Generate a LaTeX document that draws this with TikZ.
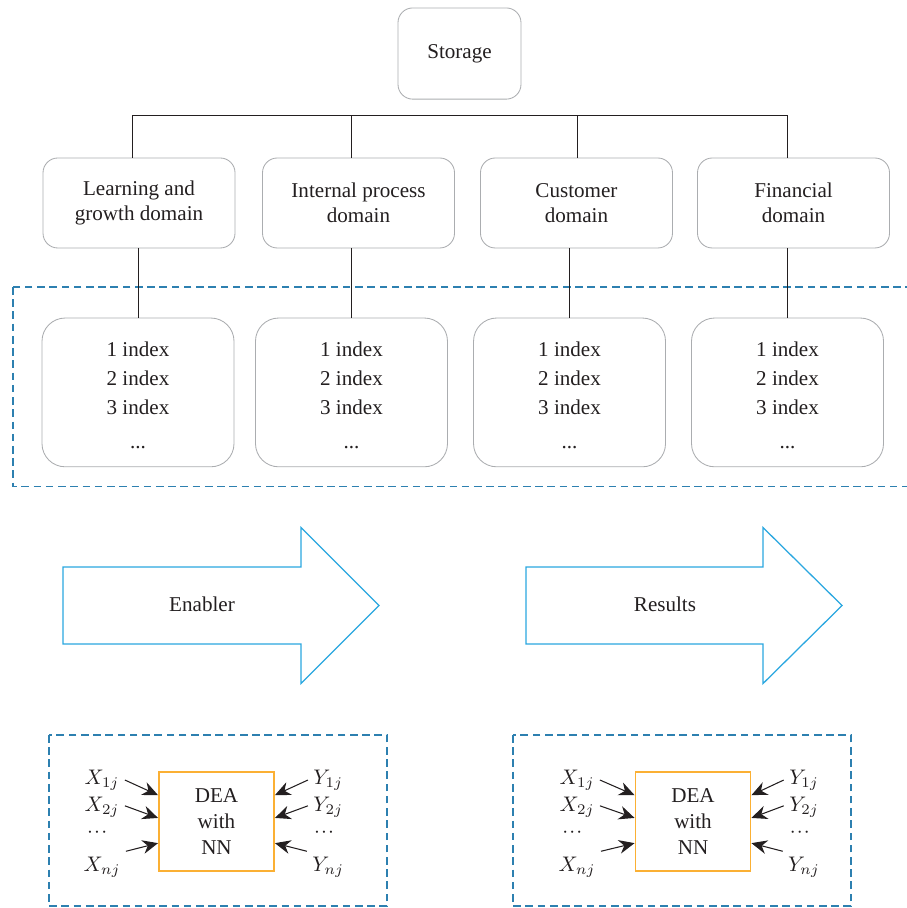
\documentclass[tikz,border=0pt]{standalone}
\usepackage{fontspec}
\setmainfont{Liberation Serif}
\usetikzlibrary{arrows.meta, positioning, calc}
\definecolor{boxgrey}{HTML}{ABADB0}
\definecolor{dashblue}{HTML}{2D80B0}
\definecolor{skyblue}{HTML}{2AA7E0}
\definecolor{deaorange}{HTML}{FBB034}
\definecolor{ink}{HTML}{231F20}
\tikzset{
  roundbox/.style={rectangle, rounded corners=7pt, draw=boxgrey, fill=white, text=ink,
    minimum width=3.2cm, minimum height=1.5cm, align=center, font=\normalsize},
  indexbox/.style={roundbox, rounded corners=11pt, minimum height=2.48cm,
    font=\fontsize{10}{13.7}\selectfont},
  deabox/.style={rectangle, draw=deaorange, thick, text=ink, minimum width=1.92cm,
    minimum height=1.65cm, align=center, font=\fontsize{10}{12.4}\selectfont},
  groupbox/.style={draw=dashblue, thick, dash pattern=on 3.6pt off 2.2pt},
  fatarrow/.style={draw=skyblue, line width=0.6pt, fill=white, line join=miter},
  varlabel/.style={text=ink, inner sep=1pt},
  link/.style={draw=ink, line width=0.45pt},
  inarrow/.style={-{Stealth[length=2.6mm, width=2.3mm]}, draw=ink, line width=0.5pt},
}
\newcommand{\vdotsrow}{$\cdot\!\cdot\!\cdot$}
\begin{document}
\begin{tikzpicture}
\useasboundingbox (0,0) rectangle (15.1,-15.133);
\node[roundbox, minimum width=2.05cm, minimum height=1.52cm] (storage) at (7.658,-0.892) {Storage};
\node[roundbox] (learn) at (2.317,-3.383) {Learning and\\growth domain};
\node[roundbox] (internal) at (5.975,-3.383) {Internal process\\domain};
\node[roundbox] (customer) at (9.608,-3.383) {Customer\\domain};
\node[roundbox] (financial) at (13.225,-3.383) {Financial\\domain};
\coordinate (bus) at (0,-1.917);
\draw[link] (learn.north -| 2.2,0) -- (bus -| 2.2,0) -- (bus -| 13.12,0) -- (financial.north -| 13.12,0);
\draw[link] (bus -| 5.85,0) -- (internal.north -| 5.85,0);
\draw[link] (bus -| 9.63,0) -- (customer.north -| 9.63,0);

\draw[groupbox] (0.217,-4.783) rectangle (15.4,-8.108);
\foreach \n/\x in {1/2.3, 2/5.858, 3/9.492, 4/13.125}
  \node[indexbox] (idx\n) at (\x,-6.54) {\\[-4pt]1 index\\2 index\\3 index\\[2.2pt]...};
\draw[link] (learn.south -| idx1) -- (idx1.north);
\draw[link] (internal.south -| idx2) -- (idx2.north);
\draw[link] (customer.south -| idx3) -- (idx3.north);
\draw[link] (financial.south -| idx4) -- (idx4.north);

\draw[fatarrow] (1.05,-9.45) -- ++(3.967,0) -- ++(0,0.658) -- ++(1.3,-1.3)
  -- ++(-1.3,-1.3) -- ++(0,0.658) -- ++(-3.967,0) -- cycle;
\node[text=ink] (enabler) at (3.367,-10.067) {Enabler};
\draw[fatarrow] (8.767,-9.45) -- ++(3.95,0) -- ++(0,0.658) -- ++(1.317,-1.3)
  -- ++(-1.317,-1.3) -- ++(0,0.658) -- ++(-3.95,0) -- cycle;
\node[text=ink] (results) at (11.083,-10.067) {Results};

\draw[groupbox] (0.817,-12.25) rectangle (6.45,-15.1);
\node[deabox] (dea1) at (3.608,-13.692) {DEA\\with\\NN};
\node[varlabel] (xa1) at (1.7,-13.0) {$X_{1j}$};
\node[varlabel] (xb1) at (1.7,-13.45) {$X_{2j}$};
\node[varlabel] (xc1) at (1.62,-13.88) {\vdotsrow};
\node[varlabel] (xd1) at (1.7,-14.45) {$X_{nj}$};
\node[varlabel] (ya1) at (5.47,-13.0) {$Y_{1j}$};
\node[varlabel] (yb1) at (5.47,-13.45) {$Y_{2j}$};
\node[varlabel] (yc1) at (5.4,-13.88) {\vdotsrow};
\node[varlabel] (yd1) at (5.47,-14.45) {$Y_{nj}$};
\draw[inarrow] ($(xa1.east)+(0.05,0)$) -- ($(dea1.west)+(0,0.44)$);
\draw[inarrow] ($(xb1.east)+(0.05,0.02)$) -- ($(dea1.west)+(0,0.06)$);
\draw[inarrow] ($(xd1.north east)+(0.05,0.05)$) -- ($(dea1.west)+(0,-0.36)$);
\draw[inarrow] ($(ya1.west)+(-0.05,0)$) -- ($(dea1.east)+(0,0.44)$);
\draw[inarrow] ($(yb1.west)+(-0.05,0.02)$) -- ($(dea1.east)+(0,0.06)$);
\draw[inarrow] ($(yd1.north west)+(-0.05,0.05)$) -- ($(dea1.east)+(0,-0.36)$);

\draw[groupbox] (8.55,-12.25) rectangle (14.183,-15.1);
\node[deabox] (dea2) at (11.55,-13.692) {DEA\\with\\NN};
\node[varlabel] (xa2) at (9.617,-13.0) {$X_{1j}$};
\node[varlabel] (xb2) at (9.617,-13.45) {$X_{2j}$};
\node[varlabel] (xc2) at (9.537,-13.88) {\vdotsrow};
\node[varlabel] (xd2) at (9.617,-14.45) {$X_{nj}$};
\node[varlabel] (ya2) at (13.4,-13.0) {$Y_{1j}$};
\node[varlabel] (yb2) at (13.4,-13.45) {$Y_{2j}$};
\node[varlabel] (yc2) at (13.33,-13.88) {\vdotsrow};
\node[varlabel] (yd2) at (13.4,-14.45) {$Y_{nj}$};
\draw[inarrow] ($(xa2.east)+(0.05,0)$) -- ($(dea2.west)+(0,0.44)$);
\draw[inarrow] ($(xb2.east)+(0.05,0.02)$) -- ($(dea2.west)+(0,0.06)$);
\draw[inarrow] ($(xd2.north east)+(0.05,0.05)$) -- ($(dea2.west)+(0,-0.36)$);
\draw[inarrow] ($(ya2.west)+(-0.05,0)$) -- ($(dea2.east)+(0,0.44)$);
\draw[inarrow] ($(yb2.west)+(-0.05,0.02)$) -- ($(dea2.east)+(0,0.06)$);
\draw[inarrow] ($(yd2.north west)+(-0.05,0.05)$) -- ($(dea2.east)+(0,-0.36)$);
\end{tikzpicture}
\end{document}
